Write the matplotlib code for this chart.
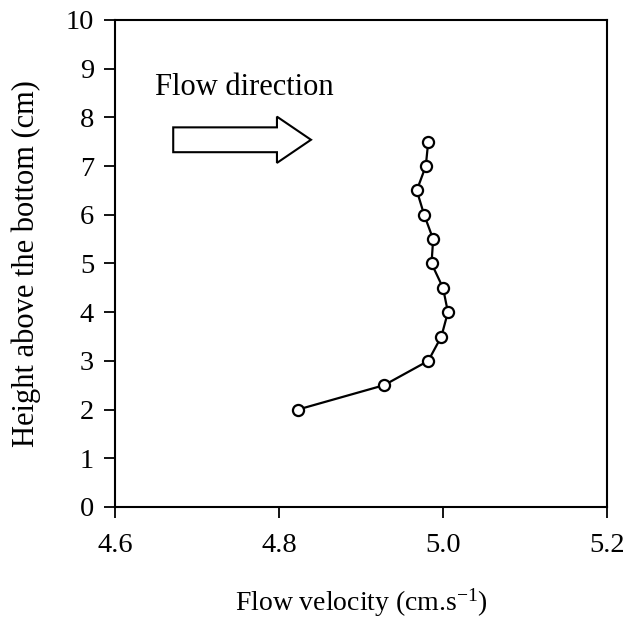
import matplotlib

matplotlib.use('Agg')
import matplotlib.pyplot as plt

# flow velocity profile
height_cm = [2.0, 2.5, 3.0, 3.5, 4.0, 4.5, 5.0, 5.5, 6.0, 6.5, 7.0, 7.5]
velocity = [4.823, 4.928, 4.982, 4.998, 5.006, 5.000, 4.986, 4.988, 4.977, 4.968, 4.979, 4.982]

x_ticks = [4.6, 4.8, 5.0, 5.2]
x_tick_labels = ['4.6', '4.8', '5.0', '5.2']
y_ticks = list(range(0, 11))

plt.rcParams['font.family'] = ['Liberation Serif', 'DejaVu Serif']
plt.rcParams['mathtext.fontset'] = 'custom'
plt.rcParams['mathtext.rm'] = 'Liberation Serif'
plt.rcParams['mathtext.default'] = 'regular'

fig = plt.figure(figsize=(6.25, 6.32), dpi=100)
ax = fig.add_axes([0.184, 0.1978, 0.7872, 0.7706])

ax.plot(velocity, height_cm, color='black', linewidth=1.6, marker='o', markersize=8,
        markerfacecolor='white', markeredgecolor='black', markeredgewidth=1.6, zorder=3)

ax.set_xlim(4.6, 5.2)
ax.set_ylim(0, 10)
ax.set_xticks(x_ticks)
ax.set_xticklabels(x_tick_labels)
ax.set_yticks(y_ticks)
ax.tick_params(direction='out', length=8, width=1.3, labelsize=20.5, colors='black')
ax.tick_params(axis='x', pad=11)
ax.tick_params(axis='y', pad=7)
for side in ['left', 'right', 'top', 'bottom']:
    ax.spines[side].set_linewidth(1.5)

ax.set_xlabel('Flow velocity (cm.s$^{-1}$)', fontsize=20, labelpad=20)
ax.set_ylabel('Height above the bottom (cm)', fontsize=22, labelpad=18)

# flow direction note and block arrow
ax.text(4.649, 8.46, 'Flow direction', fontsize=22, va='baseline', ha='left')
ax.arrow(4.671, 7.54, 0.168, 0, width=0.51, head_width=0.95, head_length=0.0415,
         length_includes_head=True, facecolor='white', edgecolor='black', linewidth=1.5)

fig.savefig('out.png', dpi=100)
plt.close()
